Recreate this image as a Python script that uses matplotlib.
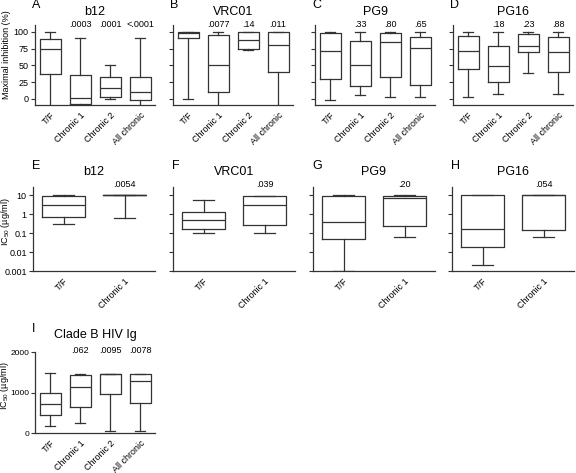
import numpy as np
import matplotlib
matplotlib.use("Agg")
from matplotlib import pyplot as plt
from matplotlib import ticker

plt.rcParams['font.family'] = ['Liberation Sans', 'DejaVu Sans']
plt.rcParams['mathtext.fontset'] = 'custom'
plt.rcParams['mathtext.rm'] = 'Liberation Sans'

# box stats: (whisker low, q1, median, q3, whisker high)
cats4 = ["T/F", "Chronic 1", "Chronic 2", "All chronic"]
cats2 = ["T/F", "Chronic 1"]

# maximal inhibition (%)
b12_inh = [[-12, 37, 75, 88.5, 99.5], [-15, -8, 1, 35, 91], [0, 2.5, 17, 32.5, 51], [-15, -1.5, 10.5, 32.5, 91]]
vrc01_inh = [[0, 90, 98.5, 99.5, 100], [-15, 11, 51, 95, 100], [73.5, 75, 87, 100, 100], [-15, 39.5, 80, 100, 100]]
pg9_inh = [[-2, 29, 72, 98.5, 100], [6.5, 19, 51, 86, 100], [2.5, 33, 85, 98.5, 100], [2.5, 21, 76, 92, 100]]
pg16_inh = [[3.5, 45, 71, 93.5, 99.5], [7, 24.5, 48.5, 78.5, 99.5], [38.5, 69.5, 78.5, 97, 99.5], [7, 39.5, 70.5, 92.5, 99.5]]
p_inh = [[".0003", ".0001", "<.0001"], [".0077", ".14", ".011"], [".33", ".80", ".65"], [".18", ".23", ".88"]]

# IC50 (ug/ml)
b12_ic = [[0.29, 0.68, 3.0, 9.2, 10], [0.65, 10, 10, 10, 10]]
vrc01_ic = [[0.1, 0.16, 0.48, 1.22, 5.9], [0.1, 0.26, 3.0, 9.5, 9.5]]
pg9_ic = [[0.001, 0.046, 0.37, 8.8, 10], [0.066, 0.25, 7.5, 9.2, 10]]
pg16_ic = [[0.0021, 0.018, 0.155, 10, 10], [0.059, 0.15, 10, 10, 10]]
p_ic = [".0054", ".039", ".20", ".054"]

# clade B HIV Ig IC50
hivig = [[171, 447, 715, 984, 1472], [252, 634, 1146, 1440, 1463], [40, 959, 1463, 1463, 1463], [40, 740, 1285, 1463, 1463]]
p_hivig = [".062", ".0095", ".0078"]

W, H = 576, 473
fig = plt.figure(figsize=(W / 100, H / 100), dpi=100)
LC = '#333333'


def make_ax(left, top, width, height):
    return fig.add_axes([left / W, 1 - (top + height) / H, width / W, height / H])


def draw_boxes(ax, data, cats):
    stats = []
    for (lo, q1, med, q3, hi), c in zip(data, cats):
        stats.append(dict(whislo=lo, q1=q1, med=med, q3=q3, whishi=hi, fliers=[], label=c))
    props = dict(color=LC, linewidth=0.9)
    ax.bxp(stats, widths=0.7, capwidths=0.35, showfliers=False,
           boxprops=props, whiskerprops=props, capprops=props,
           medianprops=props)
    for s in ['top', 'right']:
        ax.spines[s].set_visible(False)
    for s in ['left', 'bottom']:
        ax.spines[s].set_color(LC)
        ax.spines[s].set_linewidth(0.9)
    ax.set_xlim(0.5, len(cats) + 0.5)
    ax.set_xticks(range(1, len(cats) + 1))
    ax.set_xticklabels(cats, rotation=45, ha='right', rotation_mode='anchor', fontsize=6.5)
    ax.tick_params(axis='x', length=0, pad=4)
    ax.tick_params(axis='y', length=3, width=0.8, color=LC, labelsize=6.5, pad=1.5)


def pvals(ax, labels, y, first=2):
    tr = ax.get_xaxis_transform()
    for i, t in enumerate(labels):
        ax.text(first + i, y, t, transform=tr, ha='center', va='center', fontsize=6.5, clip_on=False)


def letter(ch, x, y):
    fig.text(x / W, 1 - y / H, ch, ha='left', va='center', fontsize=9)


lefts = [35, 173, 315, 453]
aw = 120

# row 1
titles1 = ["b12", "VRC01", "PG9", "PG16"]
for k, (d, ttl, pv, ch) in enumerate(zip([b12_inh, vrc01_inh, pg9_inh, pg16_inh], titles1, p_inh, "ABCD")):
    ax = make_ax(lefts[k], 25, aw, 80)
    draw_boxes(ax, d, cats4)
    ax.set_ylim(-9, 110)
    ax.set_yticks([0, 25, 50, 75, 100])
    if k > 0:
        ax.set_yticklabels([])
    ax.text(0.5, 1.16, ttl, transform=ax.transAxes, ha='center', va='center', fontsize=9)
    pvals(ax, pv, 1.0)
    letter(ch, lefts[k] - 3, 5)
fig.text(7 / W, 1 - 55 / H, "Maximal inhibition (%)", rotation=90, ha='center', va='center', fontsize=6.5)

# row 2
lefts2 = [33, 173, 313, 452]
for k, (d, ttl, pv, ch) in enumerate(zip([b12_ic, vrc01_ic, pg9_ic, pg16_ic], titles1, p_ic, "EFGH")):
    ax = make_ax(lefts2[k], 187, 122, 84)
    ax.set_yscale('log')
    draw_boxes(ax, d, cats2)
    ax.set_ylim(0.001, 27)
    ax.yaxis.set_major_locator(ticker.FixedLocator([0.001, 0.01, 0.1, 1, 10]))
    ax.yaxis.set_minor_locator(ticker.NullLocator())
    if k == 0:
        ax.set_yticklabels(["0.001", "0.01", "0.1", "1", "10"])
    else:
        ax.set_yticklabels([])
    ax.text(0.5, 1.18, ttl, transform=ax.transAxes, ha='center', va='center', fontsize=9)
    pvals(ax, [pv], 1.03)
    letter(ch, lefts2[k] - 1, 166)
fig.text(6 / W, 1 - 222 / H, "IC$_{50}$ (µg/ml)", rotation=90, ha='center', va='center', fontsize=6.5)

# row 3
ax = make_ax(35, 352, aw, 81)
draw_boxes(ax, hivig, cats4)
ax.set_ylim(0, 2000)
ax.set_yticks([0, 1000, 2000])
ax.tick_params(axis='y', labelsize=6, pad=1)
ax.text(0.5, 1.21, "Clade B HIV Ig", transform=ax.transAxes, ha='center', va='center', fontsize=9)
pvals(ax, p_hivig, 1.02)
letter("I", 32, 329)
fig.text(5 / W, 1 - 386 / H, "IC$_{50}$ (µg/ml)", rotation=90, ha='center', va='center', fontsize=6.5)

fig.savefig("out.png", dpi=100)
